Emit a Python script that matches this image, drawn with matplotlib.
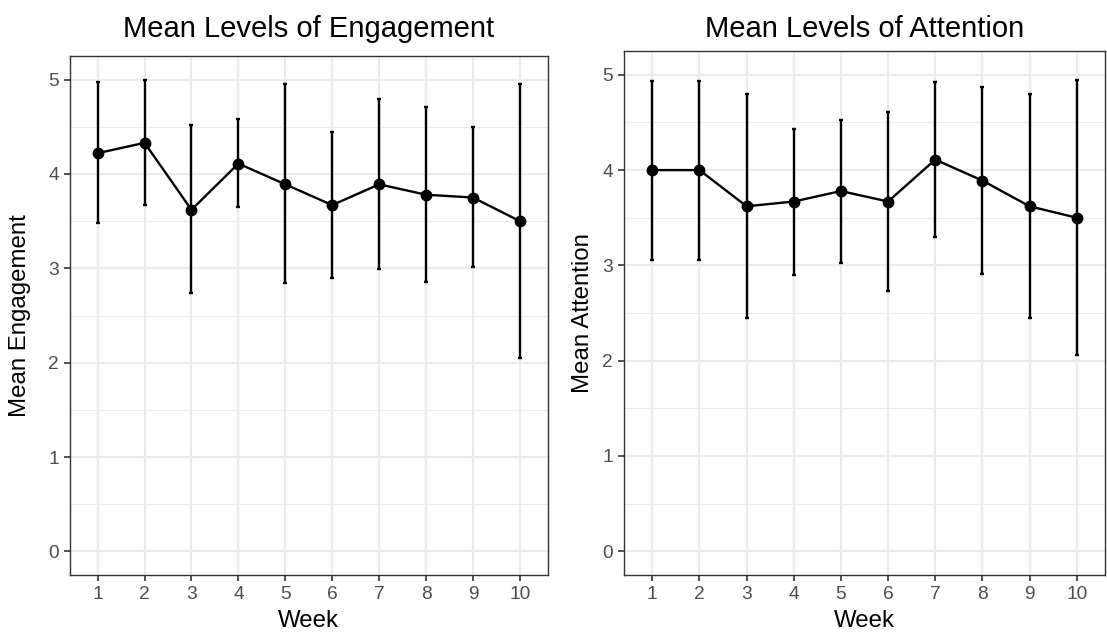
import matplotlib
matplotlib.use("Agg")
import matplotlib.pyplot as plt
import numpy as np

weeks = [1, 2, 3, 4, 5, 6, 7, 8, 9, 10]

engagement_mean = [4.22, 4.33, 3.62, 4.11, 3.89, 3.67, 3.89, 3.78, 3.75, 3.50]
engagement_low = [3.48, 3.67, 2.74, 3.65, 2.84, 2.90, 2.99, 2.86, 3.01, 2.05]
engagement_high = [4.97, 5.00, 4.52, 4.58, 4.95, 4.44, 4.79, 4.71, 4.50, 4.95]

attention_mean = [4.00, 4.00, 3.62, 3.67, 3.78, 3.67, 4.11, 3.89, 3.62, 3.50]
attention_low = [3.06, 3.06, 2.45, 2.90, 3.03, 2.73, 3.30, 2.91, 2.45, 2.06]
attention_high = [4.94, 4.94, 4.80, 4.43, 4.53, 4.61, 4.92, 4.87, 4.80, 4.95]

y_ticks = [0, 1, 2, 3, 4, 5]

plt.rcParams["font.family"] = ["Liberation Sans", "DejaVu Sans"]

W, H = 1107, 632
PX = 0.72  # points per pixel at dpi 100


def draw_panel(fig, rect_px, means, low, high, title, ylabel, ylabel_x):
    left, top, right, bottom = rect_px
    w_px, h_px = right - left, bottom - top
    ax = fig.add_axes([left / W, 1 - bottom / H, w_px / W, h_px / H])

    means = np.array(means)
    yerr = [means - np.array(low), np.array(high) - means]

    # theme_bw-ish grid: minor + major on y, major only on x
    for y in np.arange(0.5, 5, 1.0):
        ax.axhline(y, color="#EBEBEB", lw=0.8, zorder=0)
    for y in y_ticks:
        ax.axhline(y, color="#EBEBEB", lw=1.6, zorder=0)
    for x in weeks:
        ax.axvline(x, color="#EBEBEB", lw=1.6, zorder=0)

    ax.errorbar(weeks, means, yerr=yerr, fmt="none", ecolor="black",
                elinewidth=1.7, capsize=1.4, capthick=1.7, zorder=2)
    ax.plot(weeks, means, color="black", lw=1.7, marker="o", markersize=7.5, zorder=3)

    ax.set_xlim(0.4, 10.6)
    ax.set_ylim(-0.25, 5.25)
    ax.set_xticks(weeks)
    ax.set_xticklabels([str(w) for w in weeks])
    ax.set_yticks(y_ticks)
    ax.set_yticklabels([str(t) for t in y_ticks])
    ax.tick_params(length=4.3, width=1.2, color="#333333", labelcolor="#4D4D4D",
                   labelsize=13.8, pad=3.5)
    for spine in ax.spines.values():
        spine.set_color("#333333")
        spine.set_linewidth(1.0)

    ax.set_xlabel("Week", fontsize=17.3, va="center")
    ax.xaxis.set_label_coords(0.5, (bottom - 621) / h_px)
    ax.set_ylabel(ylabel, fontsize=17.3, va="center")
    ax.yaxis.set_label_coords((ylabel_x - left) / w_px, 0.5)
    ax.set_title(title, fontsize=21, pad=(top - 37) * PX)
    return ax


fig = plt.figure(figsize=(W / 100, H / 100), dpi=100)

draw_panel(fig, (69.5, 56, 548, 575), engagement_mean, engagement_low, engagement_high,
           "Mean Levels of Engagement", "Mean Engagement", 20)
draw_panel(fig, (624, 51, 1105, 575), attention_mean, attention_low, attention_high,
           "Mean Levels of Attention", "Mean Attention", 583)

fig.savefig("out.png", dpi=100)
plt.close(fig)
